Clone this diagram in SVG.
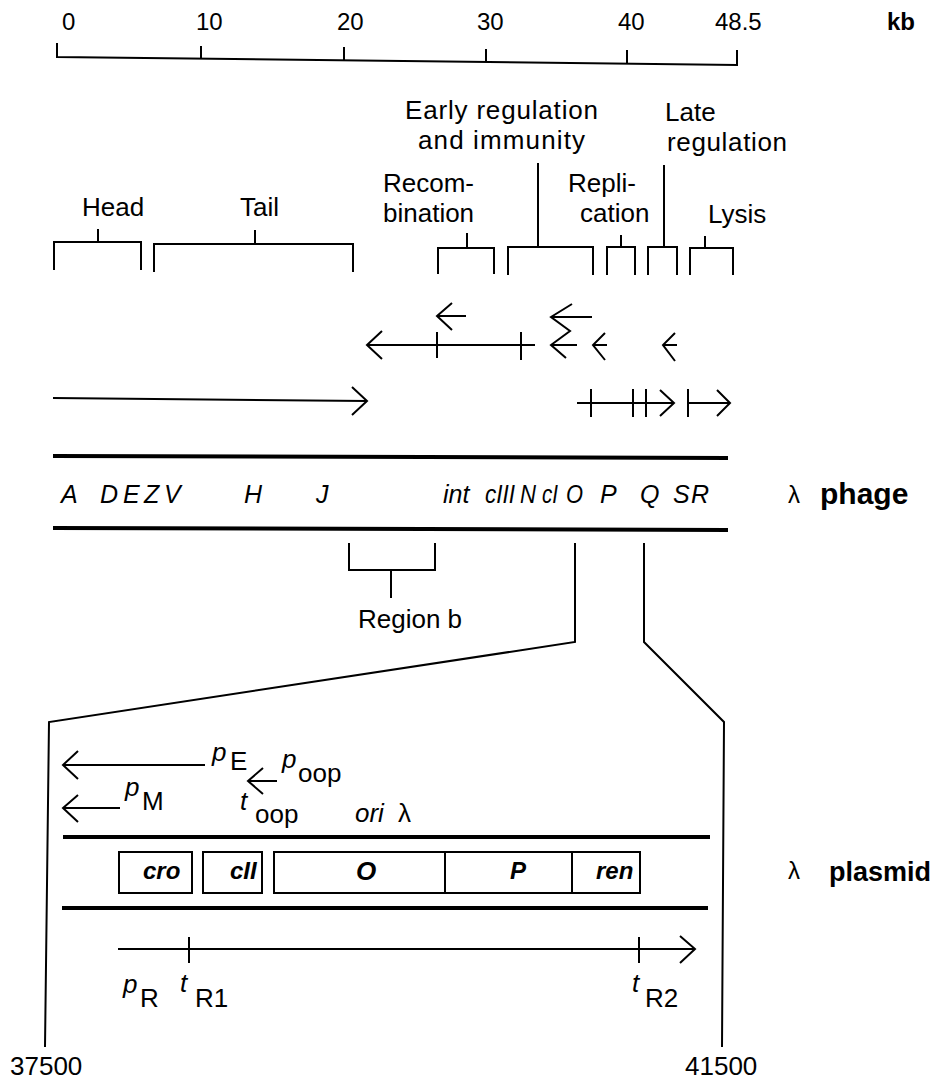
<svg xmlns="http://www.w3.org/2000/svg" width="932" height="1082" viewBox="0 0 932 1082">
<style>
text{font-family:"Liberation Sans",Arial,sans-serif;fill:#000;}
.lab{font-size:26px;}
.num{font-size:24px;}
.gene{font-size:25px;font-style:italic;}
.bold{font-weight:bold;}
.bi{font-size:24px;font-weight:bold;font-style:italic;}
.it{font-style:italic;}
.s{fill:none;stroke:#000;stroke-width:2;stroke-linecap:butt;stroke-linejoin:miter;}
.thick{fill:none;stroke:#000;stroke-width:4;}
</style>
<rect width="932" height="1082" fill="#fff"/>

<g id="scale">
<polyline class="s" points="57,43 57,57 737,65 737,50"/>
<line class="s" x1="201" y1="46" x2="201" y2="59"/>
<line class="s" x1="344" y1="47" x2="344" y2="61"/>
<line class="s" x1="486" y1="49" x2="486" y2="62"/>
<line class="s" x1="627" y1="50" x2="627" y2="64"/>
<text class="num" x="62" y="30">0</text>
<text class="num" x="196" y="30">10</text>
<text class="num" x="337" y="30">20</text>
<text class="num" x="477" y="30">30</text>
<text class="num" x="618" y="30">40</text>
<text class="num" x="715" y="30">48.5</text>
<text class="num bold" x="887" y="30">kb</text>
</g>

<g id="head">
<polyline class="s" points="54,270 54,242 141,242 141,270"/>
<line class="s" x1="98" y1="229" x2="98" y2="242"/>
<text class="lab" x="82" y="216">Head</text>
</g>
<g id="tail">
<polyline class="s" points="154,272 154,244 353,244 353,272"/>
<line class="s" x1="255" y1="230" x2="255" y2="244"/>
<text class="lab" x="240" y="216">Tail</text>
</g>
<g id="recombination">
<polyline class="s" points="438,274 438,248 494,248 494,274"/>
<line class="s" x1="467" y1="233" x2="467" y2="248"/>
<text class="lab" x="383" y="192">Recom-</text>
<text class="lab" x="383" y="222">bination</text>
</g>
<g id="early-regulation">
<polyline class="s" points="508,275 508,247 593,247 593,275"/>
<line class="s" x1="538" y1="163" x2="538" y2="247"/>
<text class="lab" x="405" y="119" textLength="193" lengthAdjust="spacing">Early regulation</text>
<text class="lab" x="418" y="149" textLength="167" lengthAdjust="spacing">and immunity</text>
</g>
<g id="replication">
<polyline class="s" points="607,275 607,247 635,247 635,275"/>
<line class="s" x1="621" y1="235" x2="621" y2="247"/>
<text class="lab" x="568" y="192">Repli-</text>
<text class="lab" x="580" y="222">cation</text>
</g>
<g id="late-regulation">
<polyline class="s" points="648,275 648,247 677,247 677,275"/>
<line class="s" x1="664" y1="165" x2="664" y2="247"/>
<text class="lab" x="665" y="121">Late</text>
<text class="lab" x="667" y="151" textLength="120" lengthAdjust="spacing">regulation</text>
</g>
<g id="lysis">
<polyline class="s" points="690,275 690,248 733,248 733,275"/>
<line class="s" x1="705" y1="236" x2="705" y2="248"/>
<text class="lab" x="708" y="223">Lysis</text>
</g>

<g id="connectors">
<line class="s" x1="367" y1="345" x2="535" y2="345"/>
<polyline class="s" points="382,331 367,345 382,359"/>
<line class="s" x1="437" y1="332" x2="437" y2="358"/>
<line class="s" x1="521" y1="332" x2="521" y2="360"/>
<line class="s" x1="437" y1="316" x2="466" y2="316"/>
<polyline class="s" points="452,303 437,316 452,330"/>
<line class="s" x1="551" y1="317" x2="592" y2="317"/>
<polyline class="s" points="572,304 551,317 570,331 551,345 566,358"/>
<line class="s" x1="551" y1="345" x2="577" y2="345"/>
<polyline class="s" points="605,333 593,345 605,360"/>
<line class="s" x1="593" y1="345" x2="607" y2="345"/>
<polyline class="s" points="675,333 663,345 675,361"/>
<line class="s" x1="663" y1="345" x2="677" y2="345"/>
<line class="s" x1="53" y1="398" x2="367" y2="401"/>
<polyline class="s" points="352,387 367,401 352,415"/>
<line class="s" x1="577" y1="403" x2="674" y2="403"/>
<line class="s" x1="591" y1="389" x2="591" y2="417"/>
<line class="s" x1="633" y1="389" x2="633" y2="417"/>
<line class="s" x1="646" y1="389" x2="646" y2="417"/>
<polyline class="s" points="660,390 674,403 660,416"/>
<line class="s" x1="688" y1="389" x2="688" y2="417"/>
<line class="s" x1="688" y1="403" x2="730" y2="403"/>
<polyline class="s" points="717,390 730,403 717,416"/>
<polyline class="s" points="575,543 575,642 49,722 45,1047"/>
<polyline class="s" points="644,543 644,642 724,722 722,1047"/>
<line class="s" x1="63" y1="765" x2="205" y2="765"/>
<polyline class="s" points="78,751 63,765 78,779"/>
<line class="s" x1="248" y1="781" x2="277" y2="781"/>
<polyline class="s" points="263,768 248,781 263,794"/>
<line class="s" x1="63" y1="808" x2="120" y2="808"/>
<polyline class="s" points="78,795 63,808 78,822"/>
<line class="s" x1="118" y1="949" x2="695" y2="949"/>
<polyline class="s" points="680,936 695,949 680,963"/>
<line class="s" x1="189" y1="937" x2="189" y2="963"/>
<line class="s" x1="639" y1="937" x2="639" y2="963"/>
</g>

<g id="phage-map">
<line class="thick" x1="53" y1="456" x2="728" y2="458"/>
<line class="thick" x1="53" y1="528" x2="728" y2="530"/>
<text class="gene" x="61" y="503">A</text>
<text class="gene" x="100" y="503">D</text>
<text class="gene" x="123" y="503">E</text>
<text class="gene" x="144" y="503">Z</text>
<text class="gene" x="164" y="503">V</text>
<text class="gene" x="244" y="503">H</text>
<text class="gene" x="316" y="503">J</text>
<text class="gene" x="443" y="503">int</text>
<text class="gene" x="485" y="503" textLength="30" lengthAdjust="spacingAndGlyphs">cIII</text>
<text class="gene" x="520" y="503" textLength="16" lengthAdjust="spacingAndGlyphs">N</text>
<text class="gene" x="542" y="503" textLength="16" lengthAdjust="spacingAndGlyphs">cI</text>
<text class="gene" x="566" y="503" textLength="17" lengthAdjust="spacingAndGlyphs">O</text>
<text class="gene" x="600" y="503">P</text>
<text class="gene" x="640" y="503">Q</text>
<text class="gene" x="673" y="503">S</text>
<text class="gene" x="691" y="503">R</text>
<text class="num" x="788" y="503">λ</text>
<text class="bold" style="font-size:30px" x="820" y="504">phage</text>
</g>

<g id="region-b">
<polyline class="s" points="349,543 349,570 435,570 435,543"/>
<line class="s" x1="391" y1="570" x2="391" y2="598"/>
<text class="lab" x="358" y="628">Region b</text>
</g>

<g id="plasmid">
<line class="thick" x1="63" y1="837" x2="710" y2="837"/>
<line class="thick" x1="62" y1="908" x2="708" y2="908"/>
<rect class="s" x="119" y="852" width="73" height="41"/>
<rect class="s" x="203" y="852" width="59" height="41"/>
<rect class="s" x="274" y="852" width="366" height="41"/>
<line class="s" x1="445" y1="852" x2="445" y2="893"/>
<line class="s" x1="572" y1="852" x2="572" y2="893"/>
<text class="bi" x="143" y="879">cro</text>
<text class="bi" x="230" y="879">cII</text>
<text class="bi" style="font-size:26px" x="356" y="880">O</text>
<text class="bi" x="510" y="879">P</text>
<text class="bi" x="596" y="879">ren</text>
<text class="num" x="788" y="879">λ</text>
<text class="bold" style="font-size:27px" x="829" y="881">plasmid</text>
</g>

<g id="plasmid-labels">
<text class="lab it" x="212" y="761">p</text><text class="lab" x="230" y="770">E</text>
<text class="lab it" x="282" y="768">p</text><text class="lab" x="298" y="782">oop</text>
<text class="lab it" x="125" y="796">p</text><text class="lab" x="142" y="810">M</text>
<text class="lab it" x="240" y="810">t</text><text class="lab" x="255" y="823">oop</text>
<text class="lab it" x="355" y="822">ori</text><text class="lab" x="398" y="822">λ</text>
<text class="lab it" x="123" y="993">p</text><text class="lab" x="140" y="1007">R</text>
<text class="lab it" x="180" y="992">t</text><text class="lab" x="195" y="1007">R1</text>
<text class="lab it" x="632" y="992">t</text><text class="lab" x="645" y="1007">R2</text>
<text class="lab" x="10" y="1075">37500</text>
<text class="lab" x="685" y="1075">41500</text>
</g>
</svg>
